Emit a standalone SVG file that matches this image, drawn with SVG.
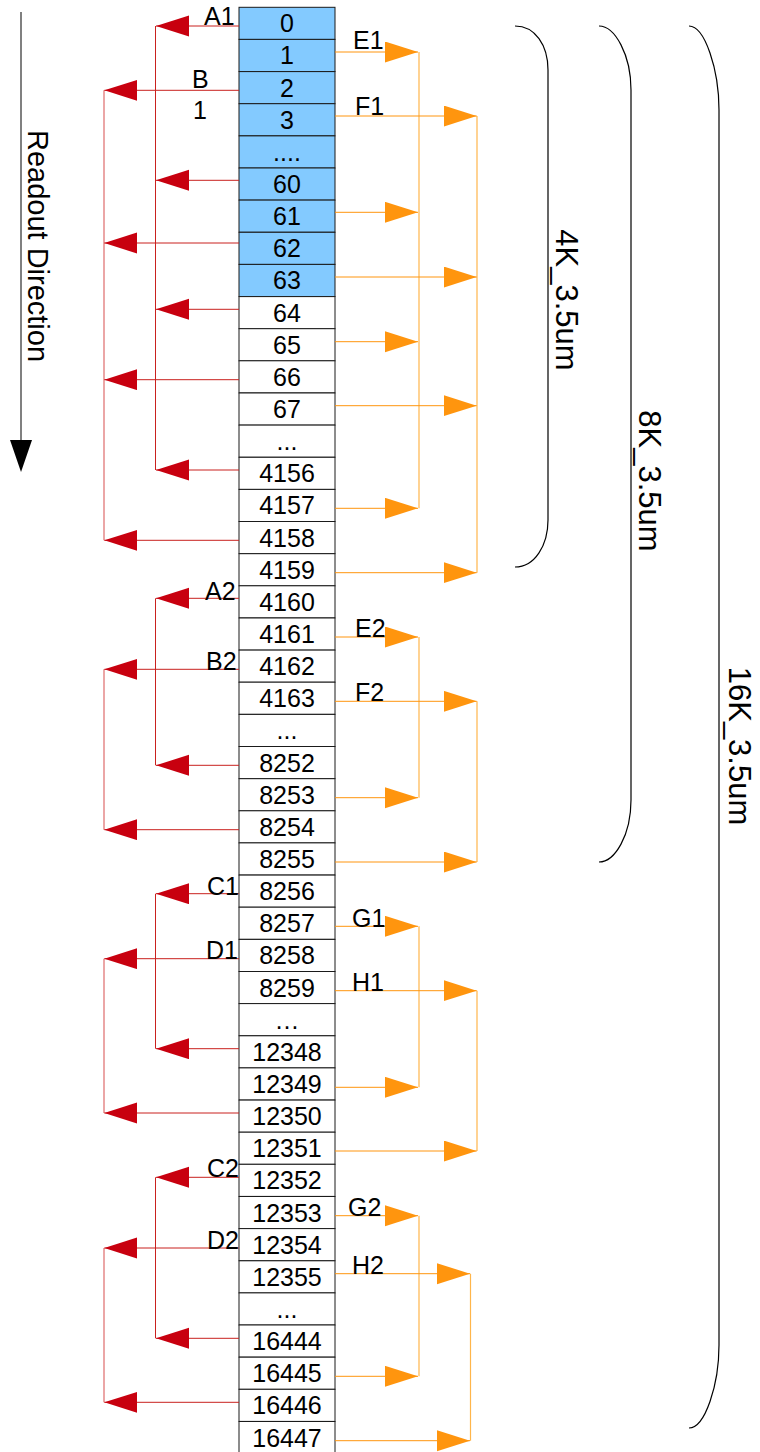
<svg xmlns="http://www.w3.org/2000/svg" width="760" height="1452" viewBox="0 0 760 1452">
<style>
.cell rect{stroke:#1a1a1a;stroke-width:1}
.blue rect{fill:#83caff}
.white rect{fill:#ffffff}
text{font-family:"Liberation Sans",Arial,sans-serif;fill:#000}
.num{font-size:25px;text-anchor:middle}
.lbl{font-size:25px}
.big{font-size:31px;text-anchor:middle}
.ro{font-size:29px;text-anchor:middle}
.rl{stroke:#c9211e;stroke-width:1;fill:none}
.rv{stroke:#de6b6b;stroke-width:1.2;fill:none}
.ol{stroke:#ff950e;stroke-width:1;fill:none}
.ov{stroke:#ffb54a;stroke-width:1.2;fill:none}
.brace{stroke:#000;stroke-width:1.2;fill:none}
</style>
<defs>
<marker id="ra" markerUnits="userSpaceOnUse" markerWidth="34" markerHeight="22" refX="33" refY="10.5" orient="auto" viewBox="0 0 34 22">
<path d="M0,0 L33,10.5 L0,21 Z" fill="#c8000f"/>
</marker>
<marker id="oa" markerUnits="userSpaceOnUse" markerWidth="34" markerHeight="22" refX="33" refY="10.5" orient="auto" viewBox="0 0 34 22">
<path d="M0,0 L33,10.5 L0,21 Z" fill="#ff950e"/>
</marker>
</defs>
<rect width="760" height="1452" fill="#ffffff"/>

<g id="readout">
<line x1="21" y1="12" x2="21" y2="442" stroke="#808080" stroke-width="2"/>
<polygon points="10,440 32,440 21,472" fill="#000"/>
<text class="ro" transform="translate(28,246) rotate(90)">Readout Direction</text>
</g>

<g id="cells">
<g id="c0" class="cell blue"><rect x="239" y="7.3" width="96" height="32.1"/><text class="num" x="287" y="32.3">0</text></g>
<g id="c1" class="cell blue"><rect x="239" y="39.4" width="96" height="32.1"/><text class="num" x="287" y="64.4">1</text></g>
<g id="c2" class="cell blue"><rect x="239" y="71.6" width="96" height="32.1"/><text class="num" x="287" y="96.6">2</text></g>
<g id="c3" class="cell blue"><rect x="239" y="103.7" width="96" height="32.1"/><text class="num" x="287" y="128.7">3</text></g>
<g id="c4" class="cell blue"><rect x="239" y="135.9" width="96" height="32.1"/><text class="num" x="287" y="160.9">....</text></g>
<g id="c5" class="cell blue"><rect x="239" y="168.0" width="96" height="32.1"/><text class="num" x="287" y="193.0">60</text></g>
<g id="c6" class="cell blue"><rect x="239" y="200.1" width="96" height="32.1"/><text class="num" x="287" y="225.1">61</text></g>
<g id="c7" class="cell blue"><rect x="239" y="232.3" width="96" height="32.1"/><text class="num" x="287" y="257.3">62</text></g>
<g id="c8" class="cell blue"><rect x="239" y="264.4" width="96" height="32.1"/><text class="num" x="287" y="289.4">63</text></g>
<g id="c9" class="cell white"><rect x="239" y="296.6" width="96" height="32.1"/><text class="num" x="287" y="321.6">64</text></g>
<g id="c10" class="cell white"><rect x="239" y="328.7" width="96" height="32.1"/><text class="num" x="287" y="353.7">65</text></g>
<g id="c11" class="cell white"><rect x="239" y="360.8" width="96" height="32.1"/><text class="num" x="287" y="385.8">66</text></g>
<g id="c12" class="cell white"><rect x="239" y="393.0" width="96" height="32.1"/><text class="num" x="287" y="418.0">67</text></g>
<g id="c13" class="cell white"><rect x="239" y="425.1" width="96" height="32.1"/><text class="num" x="287" y="450.1">...</text></g>
<g id="c14" class="cell white"><rect x="239" y="457.3" width="96" height="32.1"/><text class="num" x="287" y="482.3">4156</text></g>
<g id="c15" class="cell white"><rect x="239" y="489.4" width="96" height="32.1"/><text class="num" x="287" y="514.4">4157</text></g>
<g id="c16" class="cell white"><rect x="239" y="521.5" width="96" height="32.1"/><text class="num" x="287" y="546.5">4158</text></g>
<g id="c17" class="cell white"><rect x="239" y="553.7" width="96" height="32.1"/><text class="num" x="287" y="578.7">4159</text></g>
<g id="c18" class="cell white"><rect x="239" y="585.8" width="96" height="32.1"/><text class="num" x="287" y="610.8">4160</text></g>
<g id="c19" class="cell white"><rect x="239" y="618.0" width="96" height="32.1"/><text class="num" x="287" y="643.0">4161</text></g>
<g id="c20" class="cell white"><rect x="239" y="650.1" width="96" height="32.1"/><text class="num" x="287" y="675.1">4162</text></g>
<g id="c21" class="cell white"><rect x="239" y="682.2" width="96" height="32.1"/><text class="num" x="287" y="707.2">4163</text></g>
<g id="c22" class="cell white"><rect x="239" y="714.4" width="96" height="32.1"/><text class="num" x="287" y="739.4">...</text></g>
<g id="c23" class="cell white"><rect x="239" y="746.5" width="96" height="32.1"/><text class="num" x="287" y="771.5">8252</text></g>
<g id="c24" class="cell white"><rect x="239" y="778.7" width="96" height="32.1"/><text class="num" x="287" y="803.7">8253</text></g>
<g id="c25" class="cell white"><rect x="239" y="810.8" width="96" height="32.1"/><text class="num" x="287" y="835.8">8254</text></g>
<g id="c26" class="cell white"><rect x="239" y="842.9" width="96" height="32.1"/><text class="num" x="287" y="867.9">8255</text></g>
<g id="c27" class="cell white"><rect x="239" y="875.1" width="96" height="32.1"/><text class="num" x="287" y="900.1">8256</text></g>
<g id="c28" class="cell white"><rect x="239" y="907.2" width="96" height="32.1"/><text class="num" x="287" y="932.2">8257</text></g>
<g id="c29" class="cell white"><rect x="239" y="939.4" width="96" height="32.1"/><text class="num" x="287" y="964.4">8258</text></g>
<g id="c30" class="cell white"><rect x="239" y="971.5" width="96" height="32.1"/><text class="num" x="287" y="996.5">8259</text></g>
<g id="c31" class="cell white"><rect x="239" y="1003.6" width="96" height="32.1"/><text class="num" x="287" y="1028.6">…</text></g>
<g id="c32" class="cell white"><rect x="239" y="1035.8" width="96" height="32.1"/><text class="num" x="287" y="1060.8">12348</text></g>
<g id="c33" class="cell white"><rect x="239" y="1067.9" width="96" height="32.1"/><text class="num" x="287" y="1092.9">12349</text></g>
<g id="c34" class="cell white"><rect x="239" y="1100.1" width="96" height="32.1"/><text class="num" x="287" y="1125.1">12350</text></g>
<g id="c35" class="cell white"><rect x="239" y="1132.2" width="96" height="32.1"/><text class="num" x="287" y="1157.2">12351</text></g>
<g id="c36" class="cell white"><rect x="239" y="1164.3" width="96" height="32.1"/><text class="num" x="287" y="1189.3">12352</text></g>
<g id="c37" class="cell white"><rect x="239" y="1196.5" width="96" height="32.1"/><text class="num" x="287" y="1221.5">12353</text></g>
<g id="c38" class="cell white"><rect x="239" y="1228.6" width="96" height="32.1"/><text class="num" x="287" y="1253.6">12354</text></g>
<g id="c39" class="cell white"><rect x="239" y="1260.8" width="96" height="32.1"/><text class="num" x="287" y="1285.8">12355</text></g>
<g id="c40" class="cell white"><rect x="239" y="1292.9" width="96" height="32.1"/><text class="num" x="287" y="1317.9">...</text></g>
<g id="c41" class="cell white"><rect x="239" y="1325.0" width="96" height="32.1"/><text class="num" x="287" y="1350.0">16444</text></g>
<g id="c42" class="cell white"><rect x="239" y="1357.2" width="96" height="32.1"/><text class="num" x="287" y="1382.2">16445</text></g>
<g id="c43" class="cell white"><rect x="239" y="1389.3" width="96" height="32.1"/><text class="num" x="287" y="1414.3">16446</text></g>
<g id="c44" class="cell white"><rect x="239" y="1421.5" width="96" height="32.1"/><text class="num" x="287" y="1446.5">16447</text></g>
</g>

<g id="connectors">
<g id="red-verticals">
<line class="rl" x1="155.5" y1="26" x2="155.5" y2="470"/>
<line class="rl" x1="155.5" y1="598.3" x2="155.5" y2="765.3"/>
<line class="rl" x1="155.5" y1="893.7" x2="155.5" y2="1048.7"/>
<line class="rl" x1="155.5" y1="1177.3" x2="155.5" y2="1338.3"/>
<line class="rv" x1="104" y1="90.3" x2="104" y2="540.3"/>
<line class="rv" x1="104" y1="669.3" x2="104" y2="829.7"/>
<line class="rv" x1="104" y1="958.7" x2="104" y2="1113"/>
<line class="rv" x1="104" y1="1248" x2="104" y2="1402.3"/>
</g>
<g id="red-arrows">
<line class="rl" x1="239" y1="26" x2="156" y2="26" marker-end="url(#ra)"/>
<line class="rl" x1="239" y1="180.3" x2="156" y2="180.3" marker-end="url(#ra)"/>
<line class="rl" x1="239" y1="309.3" x2="156" y2="309.3" marker-end="url(#ra)"/>
<line class="rl" x1="239" y1="470" x2="156" y2="470" marker-end="url(#ra)"/>
<line class="rl" x1="239" y1="598.3" x2="156" y2="598.3" marker-end="url(#ra)"/>
<line class="rl" x1="239" y1="765.3" x2="156" y2="765.3" marker-end="url(#ra)"/>
<line class="rl" x1="239" y1="893.7" x2="156" y2="893.7" marker-end="url(#ra)"/>
<line class="rl" x1="239" y1="1048.7" x2="156" y2="1048.7" marker-end="url(#ra)"/>
<line class="rl" x1="239" y1="1177.3" x2="156" y2="1177.3" marker-end="url(#ra)"/>
<line class="rl" x1="239" y1="1338.3" x2="156" y2="1338.3" marker-end="url(#ra)"/>
<line class="rl" x1="239" y1="90.3" x2="104.3" y2="90.3" marker-end="url(#ra)"/>
<line class="rl" x1="239" y1="243" x2="104.3" y2="243" marker-end="url(#ra)"/>
<line class="rl" x1="239" y1="379.7" x2="104.3" y2="379.7" marker-end="url(#ra)"/>
<line class="rl" x1="239" y1="540.3" x2="104.3" y2="540.3" marker-end="url(#ra)"/>
<line class="rl" x1="239" y1="669.3" x2="104.3" y2="669.3" marker-end="url(#ra)"/>
<line class="rl" x1="239" y1="829.7" x2="104.3" y2="829.7" marker-end="url(#ra)"/>
<line class="rl" x1="239" y1="958.7" x2="104.3" y2="958.7" marker-end="url(#ra)"/>
<line class="rl" x1="239" y1="1113" x2="104.3" y2="1113" marker-end="url(#ra)"/>
<line class="rl" x1="239" y1="1248" x2="104.3" y2="1248" marker-end="url(#ra)"/>
<line class="rl" x1="239" y1="1402.3" x2="104.3" y2="1402.3" marker-end="url(#ra)"/>
</g>
<g id="orange-verticals">
<line class="ov" x1="419" y1="52" x2="419" y2="508.3"/>
<line class="ov" x1="419" y1="637" x2="419" y2="797.7"/>
<line class="ov" x1="419" y1="926.3" x2="419" y2="1087.3"/>
<line class="ov" x1="419" y1="1215.7" x2="419" y2="1376.3"/>
<line class="ov" x1="477" y1="116" x2="477" y2="572.7"/>
<line class="ov" x1="477" y1="701.3" x2="477" y2="862"/>
<line class="ov" x1="477" y1="990.7" x2="477" y2="1151"/>
<line class="ov" x1="470.5" y1="1273.7" x2="470.5" y2="1440.7"/>
</g>
<g id="orange-arrows">
<line class="ol" x1="335" y1="52" x2="418" y2="52" marker-end="url(#oa)"/>
<line class="ol" x1="335" y1="212.3" x2="418" y2="212.3" marker-end="url(#oa)"/>
<line class="ol" x1="335" y1="341.7" x2="418" y2="341.7" marker-end="url(#oa)"/>
<line class="ol" x1="335" y1="508.3" x2="418" y2="508.3" marker-end="url(#oa)"/>
<line class="ol" x1="335" y1="637" x2="418" y2="637" marker-end="url(#oa)"/>
<line class="ol" x1="335" y1="797.7" x2="418" y2="797.7" marker-end="url(#oa)"/>
<line class="ol" x1="335" y1="926.3" x2="418" y2="926.3" marker-end="url(#oa)"/>
<line class="ol" x1="335" y1="1087.3" x2="418" y2="1087.3" marker-end="url(#oa)"/>
<line class="ol" x1="335" y1="1215.7" x2="418" y2="1215.7" marker-end="url(#oa)"/>
<line class="ol" x1="335" y1="1376.3" x2="418" y2="1376.3" marker-end="url(#oa)"/>
<line class="ol" x1="335" y1="116" x2="476.7" y2="116" marker-end="url(#oa)"/>
<line class="ol" x1="335" y1="277" x2="476.7" y2="277" marker-end="url(#oa)"/>
<line class="ol" x1="335" y1="405.7" x2="476.7" y2="405.7" marker-end="url(#oa)"/>
<line class="ol" x1="335" y1="572.7" x2="476.7" y2="572.7" marker-end="url(#oa)"/>
<line class="ol" x1="335" y1="701.3" x2="476.7" y2="701.3" marker-end="url(#oa)"/>
<line class="ol" x1="335" y1="862" x2="476.7" y2="862" marker-end="url(#oa)"/>
<line class="ol" x1="335" y1="990.7" x2="476.7" y2="990.7" marker-end="url(#oa)"/>
<line class="ol" x1="335" y1="1151" x2="476.7" y2="1151" marker-end="url(#oa)"/>
<line class="ol" x1="335" y1="1273.7" x2="470" y2="1273.7" marker-end="url(#oa)"/>
<line class="ol" x1="335" y1="1440.7" x2="470" y2="1440.7" marker-end="url(#oa)"/>
</g>
</g>

<g id="labels">
<text class="lbl" x="204" y="25">A1</text>
<text class="lbl" x="192" y="88">B</text>
<text class="lbl" x="193" y="119">1</text>
<text class="lbl" x="353" y="49">E1</text>
<text class="lbl" x="355" y="115">F1</text>
<text class="lbl" x="205" y="600">A2</text>
<text class="lbl" x="206" y="670">B2</text>
<text class="lbl" x="355" y="637">E2</text>
<text class="lbl" x="355" y="701">F2</text>
<text class="lbl" x="207" y="895">C1</text>
<text class="lbl" x="206" y="959">D1</text>
<text class="lbl" x="352" y="927">G1</text>
<text class="lbl" x="352" y="991">H1</text>
<text class="lbl" x="207" y="1177">C2</text>
<text class="lbl" x="207" y="1249">D2</text>
<text class="lbl" x="348" y="1216">G2</text>
<text class="lbl" x="352" y="1274">H2</text>
</g>

<g id="brace-4k">
<path class="brace" d="M515,26 C535,26 548,45 548,70 L548,520 C548,545 535,567 515,567"/>
<text class="big" transform="translate(556,300) rotate(90)">4K_3.5um</text>
</g>
<g id="brace-8k">
<path class="brace" d="M599,26 C615,26 631,55 631,90 L631,800 C631,835 615,862 599,862"/>
<text class="big" transform="translate(639,481) rotate(90)">8K_3.5um</text>
</g>
<g id="brace-16k">
<path class="brace" d="M689,26 C705,26 719,70 719,110 L719,1345 C719,1385 705,1428 689,1428"/>
<text class="big" transform="translate(729,746) rotate(90)">16K_3.5um</text>
</g>
</svg>
